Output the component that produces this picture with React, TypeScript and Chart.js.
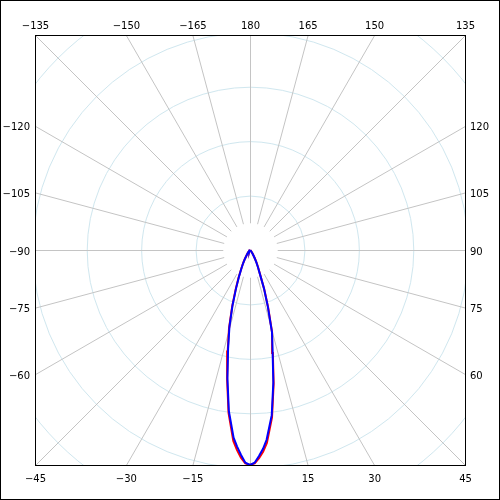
import { useEffect, useRef } from "react";
import { Chart, registerables } from "chart.js";

Chart.register(...registerables);

// Vertical angles (gamma, degrees): 0 = straight down, positive to the right
const gammaDeg = [
  -90, -80, -70, -60, -50, -45, -40, -35, -30, -27.5, -25, -22.5, -20, -17.5, -15, -12.5, -10, -7.5, -5, -3.75, -2.5, -1.25,
  0,
  1.25, 2.5, 3.75, 5, 7.5, 10, 12.5, 15, 17.5, 20, 22.5, 25, 27.5, 30, 35, 40, 45, 50, 60, 70, 80, 90,
];

// Luminous intensity (cd) for the two planes
const blueCd = [
  0, 0, 0, 1, 1, 2, 4, 8, 18, 27, 37, 53, 75, 107, 146, 186, 239, 298, 346, 362, 377, 391,
  395,
  391, 379, 366, 350, 306, 247, 192, 156, 109, 75, 47, 34, 25, 17, 8, 4, 2, 1, 1, 0, 0, 0,
];
const redCd = [
  0, 0, 0, 1, 1, 2, 4, 9, 19, 28, 38, 55, 77, 109, 149, 189, 242, 302, 352, 368, 382, 392,
  395,
  392, 383, 371, 356, 310, 250, 194, 157, 111, 76, 48, 35, 26, 18, 9, 4, 2, 1, 1, 0, 0, 0,
];

const maxCd = 395;
const ringCd = [100, 200, 300, 400, 500];
const innerCd = 50;
const spokeDeg = [
  -165, -150, -135, -120, -105, -90, -75, -60, -45, -30, -15, 0, 15, 30, 45, 60, 75, 90, 105, 120, 135, 150, 165, 180,
];
const labelDeg = [
  -165, -150, -135, -120, -105, -90, -75, -60, -45, -30, -15, 15, 30, 45, 60, 75, 90, 105, 120, 135, 150, 165, 180,
];

const toXY = (g: number[], v: number[]) =>
  g.map((a, i) => ({
    x: v[i] * Math.sin((a * Math.PI) / 180),
    y: -v[i] * Math.cos((a * Math.PI) / 180),
  }));

const labelText = (d: number) => (d < 0 ? "\u2212" + Math.abs(d) : String(d));

const polarGrid = {
  id: "polarGrid",
  beforeDraw(chart: any) {
    const { ctx, width, height } = chart;
    ctx.save();
    ctx.fillStyle = "#ffffff";
    ctx.fillRect(0, 0, width, height);
    ctx.restore();
  },
  beforeDatasetsDraw(chart: any) {
    const { ctx, chartArea: a } = chart;
    const xs = chart.scales.x;
    const ys = chart.scales.y;
    const px = (v: number) => xs.getPixelForValue(v) + 0.5;
    const py = (v: number) => ys.getPixelForValue(v) + 0.5;
    const cx = px(0);
    const cy = py(0);
    ctx.save();
    ctx.beginPath();
    ctx.rect(a.left + 1, a.top + 1, a.right - a.left - 1, a.bottom - a.top - 1);
    ctx.clip();
    ctx.lineWidth = 1;
    ctx.strokeStyle = "#d0e7ef";
    ringCd.forEach((r) => {
      const rad = px(r) - cx;
      ctx.beginPath();
      ctx.arc(cx, cy, rad, 0, Math.PI * 2);
      ctx.stroke();
    });
    ctx.strokeStyle = "#c4c4c4";
    spokeDeg.forEach((d) => {
      const t = (d * Math.PI) / 180;
      const s = Math.sin(t);
      const c = Math.cos(t);
      const far = maxCd * 2;
      ctx.beginPath();
      ctx.moveTo(px(innerCd * s), py(-innerCd * c));
      ctx.lineTo(px(far * s), py(-far * c));
      ctx.stroke();
    });
    ctx.restore();
  },
  afterDraw(chart: any) {
    const { ctx, chartArea: a, width, height } = chart;
    const xs = chart.scales.x;
    const ys = chart.scales.y;
    ctx.save();
    ctx.strokeStyle = "#000000";
    ctx.lineWidth = 1;
    ctx.strokeRect(a.left + 0.5, a.top + 0.5, a.right - a.left, a.bottom - a.top);
    ctx.strokeRect(0.5, 0.5, width - 1, height - 1);

    ctx.fillStyle = "#000000";
    ctx.font = '10px "DejaVu Sans"';
    ctx.textBaseline = "alphabetic";
    labelDeg.forEach((d) => {
      const t = (d * Math.PI) / 180;
      const s = Math.sin(t);
      const c = Math.cos(t);
      const eps = 1e-9;
      const txt = labelText(d);
      if (Math.abs(c) >= Math.abs(s) - eps) {
        const k = maxCd / Math.abs(c);
        const x = xs.getPixelForValue(k * s) + 0.5;
        ctx.textAlign = "center";
        if (c > 0) ctx.fillText(txt, x, a.bottom + 17);
        else ctx.fillText(txt, x, a.top - 6);
      } else {
        const k = maxCd / Math.abs(s);
        const y = ys.getPixelForValue(-k * c) + 0.5;
        if (s < 0) {
          ctx.textAlign = "right";
          ctx.fillText(txt, a.left - 5, y + 4);
        } else {
          ctx.textAlign = "left";
          ctx.fillText(txt, a.right + 5, y + 4);
        }
      }
    });
    ctx.restore();
  },
};

export default function App() {
  const ref = useRef<HTMLCanvasElement | null>(null);
  useEffect(() => {
    document.body.style.margin = "0";
    if (!ref.current) return;
    const chart = new Chart(ref.current, {
      type: "scatter",
      data: {
        datasets: [
          {
            label: "C90-C270",
            data: toXY(gammaDeg, blueCd),
            showLine: true,
            borderColor: "#0000ff",
            backgroundColor: "#0000ff",
            borderWidth: 2,
            pointRadius: 0,
            tension: 0,
            fill: false,
          },
          {
            label: "C0-C180",
            data: toXY(gammaDeg, redCd),
            showLine: true,
            borderColor: "#ff0000",
            backgroundColor: "#ff0000",
            borderWidth: 2,
            pointRadius: 0,
            tension: 0,
            fill: false,
          },
        ],
      },
      options: {
        animation: false,
        responsive: false,
        maintainAspectRatio: false,
        events: [],
        layout: { padding: { left: 35, right: 35, top: 35, bottom: 35 } },
        scales: {
          x: { type: "linear", min: -maxCd, max: maxCd, display: false },
          y: { type: "linear", min: -maxCd, max: maxCd, display: false },
        },
        plugins: {
          legend: { display: false },
          tooltip: { enabled: false },
        },
      },
      plugins: [polarGrid],
    } as any);
    return () => chart.destroy();
  }, []);
  return (
    <div style={{ width: 500, height: 500 }}>
      <canvas ref={ref} width={500} height={500} style={{ display: "block" }} />
    </div>
  );
}
